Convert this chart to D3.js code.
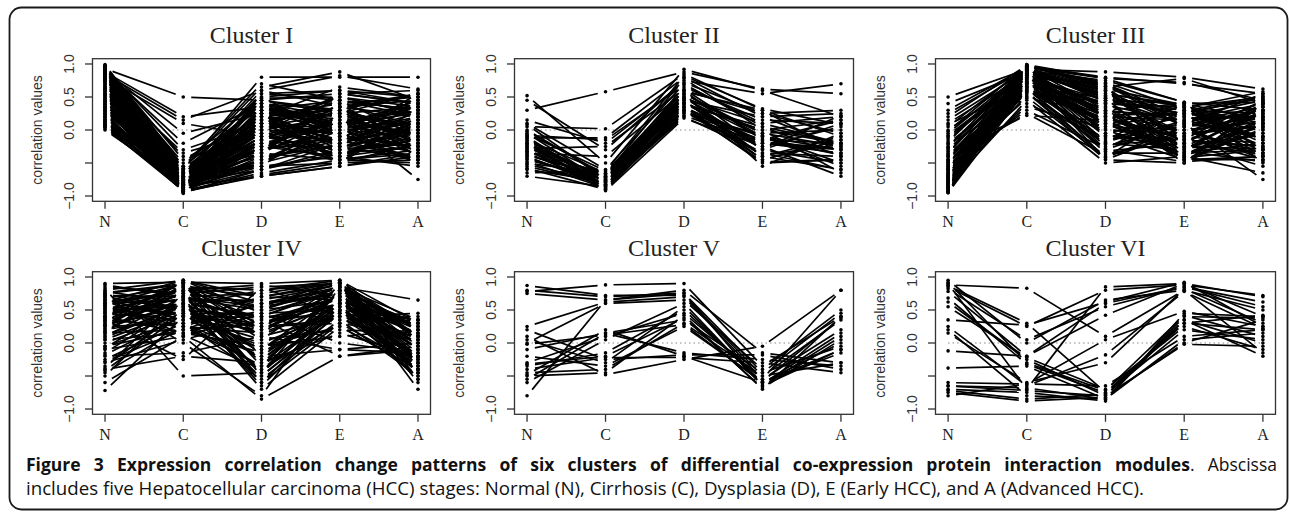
<!DOCTYPE html>
<html>
<head>
<meta charset="utf-8">
<script src="https://cdn.jsdelivr.net/npm/d3@7"></script>
<style>
  html, body { margin: 0; padding: 0; background: #fff; }
  svg { display: block; }
</style>
</head>
<body>
<div id="chart"></div>
<script>
// stages on the x axis
var stages = ["N", "C", "D", "E", "A"];
var titles = ["Cluster I", "Cluster II", "Cluster III", "Cluster IV", "Cluster V", "Cluster VI"];
var yTicks = [-1, -0.5, 0, 0.5, 1];
var yTickLabels = ["\u22121.0", "", "0.0", "0.5", "1.0"];

// one row per module: correlation at N, C, D, E, A
var clusterI = [
  [0.93, 0.50, 0.45, 0.55, 0.40], [0.88, 0.20, 0.35, 0.10, 0.25], [0.85, 0.15, 0.60, 0.82, 0.62],
  [0.80, 0.10, -0.10, 0.30, 0.55], [0.90, -0.05, 0.25, -0.20, 0.10], [0.98, -0.55, 0.70, 0.45, 0.30],
  [0.97, -0.65, 0.55, 0.60, 0.50], [0.95, -0.70, 0.40, 0.20, -0.10], [0.94, -0.60, 0.80, 0.80, 0.80],
  [0.92, -0.75, 0.30, -0.05, 0.20], [0.91, -0.80, 0.10, 0.35, 0.45], [0.89, -0.85, -0.20, 0.05, -0.30],
  [0.87, -0.50, 0.48, 0.50, 0.35], [0.86, -0.90, -0.40, -0.25, -0.45], [0.84, -0.72, 0.20, 0.40, 0.05],
  [0.83, -0.88, -0.55, -0.50, -0.20], [0.82, -0.62, 0.05, 0.25, 0.35], [0.80, -0.78, -0.30, -0.10, 0.15],
  [0.78, -0.92, -0.65, -0.45, -0.50], [0.77, -0.55, 0.35, 0.15, -0.05], [0.75, -0.82, 0.15, -0.35, -0.25],
  [0.74, -0.68, -0.05, 0.55, 0.60], [0.72, -0.86, -0.45, -0.15, 0.00], [0.70, -0.90, 0.45, 0.30, -0.35],
  [0.68, -0.74, -0.15, 0.10, 0.40], [0.66, -0.58, 0.25, -0.30, -0.15], [0.65, -0.93, -0.70, -0.55, -0.40],
  [0.63, -0.80, 0.00, -0.05, 0.25], [0.61, -0.66, -0.35, 0.20, 0.10], [0.60, -0.87, 0.55, 0.45, 0.20],
  [0.58, -0.76, -0.25, -0.40, -0.55], [0.56, -0.95, -0.60, -0.20, 0.05], [0.55, -0.62, 0.10, 0.35, -0.20],
  [0.53, -0.84, -0.10, -0.30, 0.30], [0.52, -0.70, 0.30, 0.05, 0.45], [0.50, -0.91, -0.50, 0.15, -0.10],
  [0.48, -0.78, -0.20, -0.45, -0.35], [0.46, -0.60, 0.15, 0.25, 0.55], [0.45, -0.88, 0.35, -0.10, -0.25],
  [0.43, -0.73, -0.40, -0.25, 0.00], [0.42, -0.82, 0.05, 0.50, 0.25], [0.40, -0.94, -0.68, -0.50, -0.45],
  [0.38, -0.66, -0.05, -0.15, 0.15], [0.36, -0.86, 0.20, 0.30, -0.05], [0.35, -0.77, -0.30, 0.00, -0.30],
  [0.33, -0.55, 0.40, 0.10, 0.35], [0.31, -0.90, -0.15, -0.35, -0.15], [0.30, -0.81, 0.50, 0.60, 0.40],
  [0.28, -0.70, -0.55, -0.40, 0.10], [0.26, -0.92, 0.00, 0.20, -0.40], [0.25, -0.64, 0.25, -0.20, 0.20],
  [0.23, -0.85, -0.35, 0.40, 0.50], [0.21, -0.75, 0.10, -0.05, -0.50], [0.20, -0.89, -0.60, -0.30, -0.20],
  [0.18, -0.68, 0.45, 0.25, 0.05], [0.16, -0.83, -0.10, 0.10, 0.30], [0.15, -0.79, 0.20, -0.45, -0.30],
  [0.13, -0.93, -0.45, -0.10, 0.15], [0.12, -0.72, 0.30, 0.45, -0.10], [0.10, -0.87, -0.25, -0.25, -0.05],
  [0.09, -0.62, 0.05, 0.05, 0.45], [0.08, -0.85, -0.70, -0.55, -0.35], [0.06, -0.80, 0.15, 0.35, 0.20],
  [0.05, -0.90, -0.20, -0.15, -0.45], [0.02, -0.86, -0.50, 0.00, 0.10], [0.00, -0.82, -0.05, -0.40, -0.25],
  [0.99, -0.58, 0.65, 0.88, 0.45], [0.96, -0.45, 0.20, 0.65, 0.50], [0.93, -0.30, 0.10, -0.35, -0.15],
  [0.90, -0.20, 0.40, 0.30, 0.00], [0.86, -0.40, -0.25, 0.20, -0.75], [0.76, -0.35, 0.00, -0.50, 0.35],
  [0.97, -0.82, 0.25, 0.10, -0.20], [0.95, -0.88, -0.35, -0.45, 0.15], [0.92, -0.92, 0.05, 0.45, 0.30],
  [0.90, -0.68, 0.60, 0.35, 0.55], [0.88, -0.76, -0.50, -0.20, -0.40], [0.85, -0.84, 0.35, 0.05, 0.10],
  [0.81, -0.94, -0.25, 0.15, -0.25], [0.79, -0.70, 0.20, -0.25, 0.40], [0.73, -0.80, -0.60, -0.35, -0.10],
  [0.69, -0.88, 0.10, 0.50, 0.25], [0.64, -0.72, 0.40, -0.05, -0.45], [0.59, -0.83, -0.15, 0.30, 0.00],
  [0.54, -0.91, 0.25, -0.50, 0.20], [0.49, -0.64, -0.30, 0.40, -0.30], [0.44, -0.86, 0.00, -0.20, 0.50],
  [0.39, -0.79, -0.45, 0.05, 0.35], [0.34, -0.93, 0.30, 0.20, -0.15], [0.29, -0.75, -0.10, -0.30, 0.05],
  [0.24, -0.87, 0.50, -0.10, -0.35], [0.19, -0.81, -0.35, 0.55, 0.40], [0.14, -0.90, 0.10, -0.40, 0.00],
  [0.11, -0.77, -0.55, 0.25, -0.20], [0.07, -0.84, 0.35, 0.00, 0.30], [0.04, -0.92, -0.15, 0.35, -0.40],
  [0.62, -0.96, 0.15, -0.15, 0.55]
];

var clusterII = [
  [0.30, 0.58, 0.88, 0.62, 0.55], [0.45, -0.30, 0.75, 0.55, 0.70], [0.52, -0.50, 0.92, 0.60, 0.20],
  [0.05, 0.02, 0.85, 0.30, -0.10], [-0.12, -0.12, 0.80, 0.20, 0.25], [0.10, -0.60, 0.70, 0.05, -0.20],
  [0.08, -0.75, 0.55, -0.10, -0.30], [0.00, -0.70, 0.65, 0.15, 0.10], [-0.05, -0.80, 0.50, -0.30, -0.50],
  [-0.10, -0.85, 0.45, -0.45, -0.15], [-0.15, -0.65, 0.60, 0.25, -0.05], [-0.18, -0.78, 0.40, 0.00, 0.15],
  [-0.20, -0.88, 0.35, -0.20, -0.35], [-0.22, -0.72, 0.55, -0.05, -0.25], [-0.25, -0.82, 0.30, -0.35, -0.60],
  [-0.27, -0.68, 0.48, 0.10, 0.20], [-0.30, -0.90, 0.25, -0.15, -0.20], [-0.32, -0.76, 0.42, -0.25, 0.05],
  [-0.35, -0.84, 0.38, 0.05, -0.40], [-0.38, -0.70, 0.52, -0.40, -0.10], [-0.40, -0.86, 0.28, -0.10, -0.55],
  [-0.42, -0.80, 0.45, 0.20, -0.25], [-0.45, -0.74, 0.60, -0.30, 0.10], [-0.48, -0.88, 0.32, -0.50, -0.45],
  [-0.50, -0.66, 0.40, 0.00, -0.65], [-0.55, -0.82, 0.22, -0.20, -0.30], [-0.60, -0.78, 0.35, -0.45, -0.15],
  [-0.65, -0.62, 0.50, -0.05, 0.00], [-0.70, -0.86, 0.20, -0.35, -0.40], [0.15, -0.20, 0.72, 0.25, 0.30],
  [-0.08, -0.15, 0.68, 0.10, -0.20], [-0.28, -0.25, 0.62, -0.15, 0.15], [-0.35, -0.40, 0.58, 0.30, -0.35],
  [-0.12, -0.88, 0.30, -0.48, -0.45], [-0.20, -0.92, 0.18, -0.25, -0.70], [-0.02, -0.68, 0.78, 0.00, -0.20],
  [-0.16, -0.74, 0.45, -0.40, -0.60], [-0.24, -0.84, 0.40, -0.18, -0.28], [-0.32, -0.66, 0.55, -0.55, -0.05],
  [-0.44, -0.76, 0.35, -0.28, 0.22], [-0.52, -0.80, 0.26, -0.08, -0.50], [-0.58, -0.90, 0.30, -0.38, -0.22],
  [-0.06, -0.62, 0.82, 0.32, 0.08], [-0.38, -0.72, 0.48, -0.12, -0.38]
];

var clusterIII = [
  [0.50, 0.92, 0.88, 0.80, 0.62], [0.30, 0.95, 0.78, 0.72, 0.45], [0.20, 0.98, 0.65, 0.78, 0.40],
  [0.15, 0.90, 0.75, 0.42, 0.30], [0.10, 0.85, 0.55, 0.35, 0.50], [0.05, 0.96, 0.70, 0.10, -0.10],
  [0.00, 0.80, 0.45, 0.25, 0.15], [-0.05, 0.92, 0.60, -0.20, 0.35], [-0.10, 0.75, 0.30, 0.40, -0.30],
  [-0.15, 0.88, 0.50, -0.05, 0.05], [-0.20, 0.70, 0.20, 0.15, 0.40], [-0.25, 0.94, 0.62, -0.35, -0.20],
  [-0.28, 0.65, 0.10, -0.40, 0.10], [-0.30, 0.82, 0.40, 0.30, 0.25], [-0.35, 0.97, 0.68, 0.05, -0.45],
  [-0.38, 0.60, -0.05, 0.20, 0.45], [-0.40, 0.86, 0.35, -0.25, -0.05], [-0.42, 0.72, 0.15, -0.10, 0.20],
  [-0.45, 0.93, 0.55, 0.38, -0.15], [-0.48, 0.55, -0.20, -0.30, 0.30], [-0.50, 0.78, 0.25, 0.00, -0.35],
  [-0.52, 0.90, 0.48, -0.45, 0.00], [-0.55, 0.68, 0.05, 0.28, 0.52], [-0.57, 0.84, -0.10, -0.15, -0.25],
  [-0.60, 0.96, 0.72, 0.32, 0.10], [-0.62, 0.62, -0.30, -0.48, -0.40], [-0.64, 0.80, 0.38, 0.12, 0.35],
  [-0.66, 0.74, 0.00, -0.38, 0.15], [-0.68, 0.91, 0.58, -0.20, -0.55], [-0.70, 0.58, -0.40, -0.05, 0.25],
  [-0.72, 0.87, 0.28, 0.22, -0.10], [-0.74, 0.66, -0.15, 0.40, 0.42], [-0.76, 0.95, 0.42, -0.28, 0.05],
  [-0.78, 0.71, 0.12, -0.42, -0.30], [-0.80, 0.83, -0.25, 0.08, 0.30], [-0.82, 0.60, 0.18, -0.12, -0.45],
  [-0.84, 0.89, 0.52, 0.18, 0.20], [-0.86, 0.76, -0.35, -0.35, -0.05], [-0.88, 0.93, 0.08, 0.36, -0.20],
  [-0.90, 0.69, 0.32, -0.50, 0.40], [-0.92, 0.85, -0.45, 0.00, 0.12], [-0.94, 0.99, 0.66, -0.22, -0.35],
  [-0.95, 0.77, 0.22, 0.26, 0.48], [-0.85, 0.45, -0.50, -0.40, -0.65], [-0.75, 0.40, -0.12, 0.10, -0.75],
  [-0.65, 0.35, 0.02, -0.18, 0.38], [-0.55, 0.30, -0.28, 0.30, -0.15], [-0.45, 0.25, -0.38, -0.08, 0.08],
  [-0.32, 0.22, 0.14, -0.32, -0.48], [-0.18, 0.97, 0.80, 0.70, 0.55], [-0.08, 0.82, 0.35, -0.45, -0.40],
  [0.08, 0.64, -0.18, 0.14, 0.22], [-0.22, 0.50, -0.42, 0.34, 0.58], [-0.58, 0.48, 0.26, -0.26, -0.28],
  [-0.87, 0.88, 0.60, 0.05, 0.18], [-0.79, 0.92, -0.05, -0.45, 0.02], [-0.69, 0.52, 0.44, 0.24, -0.38],
  [-0.93, 0.73, -0.22, -0.14, 0.45], [0.40, 0.88, 0.50, 0.30, -0.25], [0.25, 0.93, 0.20, -0.30, 0.35],
  [-0.02, 0.98, 0.62, 0.38, 0.05], [-0.12, 0.90, 0.05, 0.00, -0.40], [-0.26, 0.85, 0.66, -0.42, 0.28],
  [-0.36, 0.95, 0.30, 0.15, -0.10], [-0.46, 0.80, -0.32, -0.20, 0.40], [-0.53, 0.91, 0.45, 0.40, 0.15],
  [-0.61, 0.72, 0.10, -0.35, -0.30], [-0.67, 0.86, -0.18, 0.25, 0.50], [-0.73, 0.94, 0.52, -0.10, -0.20],
  [-0.77, 0.64, -0.42, 0.05, 0.30], [-0.81, 0.88, 0.25, -0.45, -0.45], [-0.83, 0.79, 0.70, 0.20, 0.00],
  [-0.86, 0.96, -0.08, -0.25, 0.25], [-0.89, 0.70, 0.40, 0.35, -0.35], [-0.91, 0.84, 0.00, -0.05, 0.42],
  [-0.93, 0.90, -0.30, 0.12, -0.12], [-0.95, 0.62, 0.15, -0.38, 0.18], [-0.71, 0.99, 0.78, 0.42, -0.50],
  [-0.49, 0.57, -0.45, -0.50, 0.10], [-0.39, 0.66, 0.48, 0.08, 0.55], [-0.59, 0.82, 0.20, -0.15, -0.25]
];

var clusterIV = [
  [0.90, 0.92, 0.90, 0.95, 0.30], [0.85, 0.75, 0.85, 0.90, 0.10], [0.80, 0.95, 0.60, 0.85, 0.35],
  [0.78, 0.60, 0.40, 0.80, -0.10], [0.75, 0.88, 0.20, 0.70, 0.20], [0.72, 0.70, 0.75, 0.92, -0.30],
  [0.70, 0.50, -0.10, 0.60, 0.05], [0.68, 0.85, 0.55, 0.75, 0.25], [0.65, 0.40, 0.30, 0.50, -0.40],
  [0.62, 0.78, -0.30, 0.65, 0.15], [0.60, 0.65, 0.65, 0.88, -0.05], [0.58, 0.90, 0.10, 0.40, 0.30],
  [0.55, 0.45, 0.45, 0.80, -0.20], [0.52, 0.72, -0.45, 0.55, -0.35], [0.50, 0.55, 0.80, 0.95, 0.10],
  [0.48, 0.82, 0.35, 0.70, -0.45], [0.45, 0.35, 0.00, 0.45, 0.00], [0.42, 0.68, 0.50, 0.85, 0.20],
  [0.40, 0.92, -0.20, 0.60, -0.25], [0.38, 0.58, 0.25, 0.30, 0.35], [0.35, 0.25, 0.60, 0.75, -0.15],
  [0.32, 0.75, -0.55, 0.35, -0.50], [0.30, 0.48, 0.15, 0.90, 0.05], [0.28, 0.85, 0.70, 0.65, 0.25],
  [0.25, 0.30, -0.35, 0.50, -0.30], [0.22, 0.62, 0.40, 0.85, -0.10], [0.20, 0.40, 0.05, 0.20, 0.15],
  [0.18, 0.78, -0.60, 0.55, -0.40], [0.15, 0.20, 0.30, 0.70, 0.00], [0.12, 0.55, -0.15, 0.40, -0.20],
  [0.10, 0.70, 0.55, 0.95, -0.55], [0.05, 0.15, -0.05, 0.10, 0.20], [0.00, 0.45, -0.40, 0.30, -0.35],
  [-0.05, 0.35, 0.20, 0.80, 0.10], [-0.10, 0.10, 0.45, 0.00, -0.15], [-0.15, 0.60, -0.25, 0.65, -0.45],
  [-0.20, -0.15, 0.10, -0.10, 0.00], [-0.25, 0.30, -0.50, 0.45, 0.30], [-0.30, 0.05, 0.35, -0.20, -0.05],
  [-0.35, 0.50, -0.10, 0.75, -0.30], [-0.40, -0.20, -0.30, 0.15, -0.20], [-0.45, 0.25, 0.15, 0.60, 0.05],
  [-0.50, 0.65, -0.65, 0.50, -0.50], [-0.60, 0.10, -0.85, -0.20, -0.10], [-0.72, 0.40, 0.25, 0.35, 0.40],
  [0.82, -0.50, -0.45, 0.90, -0.70], [0.70, 0.00, -0.80, 0.85, 0.65], [0.35, -0.25, 0.85, 0.40, 0.45],
  [0.60, 0.80, 0.88, 0.72, -0.25], [0.15, 0.95, 0.70, 0.88, -0.35], [-0.05, 0.20, -0.15, 0.55, 0.35],
  [0.45, 0.68, -0.70, 0.25, -0.40], [0.25, 0.88, 0.50, 0.92, -0.60], [0.55, 0.30, -0.20, -0.10, -0.15],
  [-0.38, 0.75, 0.60, 0.82, 0.25], [0.08, 0.58, 0.20, 0.68, -0.30], [0.65, 0.12, -0.40, 0.48, -0.05],
  [-0.18, 0.42, 0.38, 0.58, -0.45], [0.38, 0.92, -0.35, 0.78, 0.12], [0.74, 0.52, 0.12, 0.62, -0.22],
  [0.88, 0.70, 0.30, 0.60, 0.00], [0.76, 0.90, -0.50, 0.45, -0.30], [0.66, 0.35, 0.70, 0.92, 0.20],
  [0.57, 0.80, 0.05, 0.85, -0.45], [0.47, 0.60, -0.60, 0.30, 0.10], [0.40, 0.15, 0.50, 0.65, -0.20],
  [0.33, 0.92, 0.25, 0.78, 0.30], [0.27, 0.55, -0.25, 0.55, -0.55], [0.17, 0.85, 0.80, 0.90, 0.05],
  [0.05, 0.50, 0.40, 0.40, -0.35], [-0.08, 0.65, -0.45, 0.60, 0.15], [-0.28, 0.20, 0.60, 0.70, -0.10],
  [-0.42, 0.45, -0.05, 0.25, -0.40], [0.62, 0.95, 0.45, 0.50, 0.35], [0.52, 0.25, -0.35, 0.80, -0.25]
];

var clusterV = [
  [0.87, 0.72, 0.72, -0.50, 0.35], [0.78, 0.88, 0.90, -0.35, 0.40], [0.80, 0.70, 0.76, -0.65, -0.10],
  [0.75, 0.65, 0.75, -0.45, 0.45], [0.25, 0.62, 0.70, -0.55, 0.80], [0.00, 0.60, 0.65, -0.40, 0.50],
  [-0.02, 0.12, 0.28, -0.60, 0.00], [0.20, -0.25, -0.18, -0.18, -0.40], [0.05, -0.30, 0.55, -0.62, 0.15],
  [-0.10, 0.15, -0.15, -0.25, -0.35], [-0.30, 0.10, 0.45, -0.55, 0.20], [-0.32, -0.20, 0.38, -0.68, 0.05],
  [-0.35, -0.15, 0.50, -0.60, -0.15], [-0.40, -0.22, -0.22, -0.30, -0.45], [-0.45, -0.40, 0.30, -0.50, -0.30],
  [-0.48, 0.20, -0.20, -0.60, -0.10], [-0.50, -0.45, 0.42, -0.70, 0.40], [-0.55, 0.15, 0.35, -0.45, -0.05],
  [-0.60, 0.05, 0.60, -0.65, 0.10], [-0.80, 0.65, 0.80, -0.15, -0.30], [-0.20, -0.35, 0.25, -0.58, 0.38],
  [0.10, -0.48, -0.25, -0.05, 0.80]
];

var clusterVI = [
  [0.88, 0.83, 0.10, 0.80, 0.50], [0.87, 0.30, -0.75, 0.30, 0.20], [0.85, 0.25, 0.80, 0.88, 0.72],
  [0.82, 0.05, 0.55, 0.85, 0.62], [0.78, -0.20, 0.42, 0.90, 0.40], [0.62, -0.25, -0.80, 0.35, 0.00],
  [0.55, -0.22, -0.70, 0.25, -0.10], [0.35, 0.27, 0.62, 0.92, 0.25], [0.15, -0.60, -0.30, 0.82, 0.30],
  [-0.12, -0.20, 0.60, 0.85, 0.55], [-0.38, -0.35, -0.85, 0.40, 0.38], [-0.60, -0.62, -0.65, 0.10, 0.20],
  [-0.65, -0.68, -0.85, 0.05, 0.15], [-0.70, -0.75, -0.88, 0.45, 0.40], [-0.72, -0.85, -0.78, 0.20, 0.05],
  [-0.75, -0.88, -0.82, 0.00, 0.35], [0.92, -0.30, -0.72, 0.42, 0.10], [0.95, 0.00, 0.65, 0.80, -0.15],
  [0.68, -0.32, -0.76, 0.30, 0.42], [0.25, -0.65, -0.18, 0.78, 0.22], [-0.65, -0.72, -0.80, -0.02, -0.05],
  [0.90, -0.70, 0.85, 0.90, 0.70], [-0.80, -0.62, 0.05, 0.48, 0.25], [0.20, -0.80, -0.85, 0.35, -0.20]
];

var clusters = [clusterI, clusterII, clusterIII, clusterIV, clusterV, clusterVI];

var captionBold = "Figure 3 Expression correlation change patterns of six clusters of differential co-expression protein interaction modules";
var captionRest = ". Abscissa";
var captionLine2 = "includes five Hepatocellular carcinoma (HCC) stages: Normal (N), Cirrhosis (C), Dysplasia (D), E (Early HCC), and A (Advanced HCC).";

var W = 1290, H = 514;
var colLeft = [92.5, 514.5, 935.5], colRight = [430.5, 853.5, 1275.5];
var rowTop = [58.7, 271.7], rowBottom = [201.3, 414.3];
var gap = 8, tick = 7.5;

var svg = d3.select("#chart").append("svg").attr("width", W).attr("height", H);

// outer frame
svg.append("rect")
  .attr("x", 9.5).attr("y", 7.5).attr("width", 1278).attr("height", 502)
  .attr("rx", 12).attr("ry", 12)
  .attr("fill", "none").attr("stroke", "#1a1a1a").attr("stroke-width", 1.8);

clusters.forEach(function(rows, k) {
  var c = k % 3, r = Math.floor(k / 3);
  var left = colLeft[c], right = colRight[c], top = rowTop[r], bottom = rowBottom[r];
  var x = d3.scaleLinear().domain([-0.16, 4.16]).range([left, right]);
  var y = d3.scaleLinear().domain([-1.08, 1.08]).range([bottom, top]);
  var g = svg.append("g");

  // dotted zero line
  g.append("line")
    .attr("x1", x(0)).attr("x2", x(4)).attr("y1", y(0)).attr("y2", y(0))
    .attr("stroke", "#888").attr("stroke-width", 1).attr("stroke-dasharray", "1.5,3");

  // segments, R type="b" style (gap around each point)
  var segs = [];
  rows.forEach(function(v) {
    for (var i = 0; i < 4; i++) {
      var x1 = x(i), y1 = y(v[i]), x2 = x(i + 1), y2 = y(v[i + 1]);
      var dx = x2 - x1, dy = y2 - y1, L = Math.sqrt(dx * dx + dy * dy);
      if (L <= 2 * gap) continue;
      segs.push([x1 + gap * dx / L, y1 + gap * dy / L, x2 - gap * dx / L, y2 - gap * dy / L]);
    }
  });
  g.selectAll("line.seg").data(segs).enter().append("line")
    .attr("class", "seg")
    .attr("x1", function(d) { return d[0]; }).attr("y1", function(d) { return d[1]; })
    .attr("x2", function(d) { return d[2]; }).attr("y2", function(d) { return d[3]; })
    .attr("stroke", "#000").attr("stroke-width", 1.7);

  var pts = [];
  rows.forEach(function(v) { v.forEach(function(val, i) { pts.push([i, val]); }); });
  g.selectAll("circle").data(pts).enter().append("circle")
    .attr("cx", function(d) { return x(d[0]); }).attr("cy", function(d) { return y(d[1]); })
    .attr("r", 1.8).attr("fill", "#000");

  // box
  g.append("rect")
    .attr("x", left).attr("y", top).attr("width", right - left).attr("height", bottom - top)
    .attr("fill", "none").attr("stroke", "#333").attr("stroke-width", 1.3);

  // y axis
  g.selectAll("line.yt").data(yTicks).enter().append("line")
    .attr("x1", left - tick).attr("x2", left)
    .attr("y1", function(d) { return y(d); }).attr("y2", function(d) { return y(d); })
    .attr("stroke", "#333").attr("stroke-width", 1.3);
  g.selectAll("text.yl").data(yTicks).enter().append("text")
    .attr("transform", function(d) { return "translate(" + (left - 18.5) + "," + y(d) + ") rotate(-90)"; })
    .attr("text-anchor", "middle")
    .style("font-family", "'Liberation Sans', Arial, sans-serif").style("font-size", "14px")
    .attr("fill", "#333")
    .text(function(d, i) { return yTickLabels[i]; });
  g.append("text")
    .attr("transform", "translate(" + (left - 51) + "," + y(0) + ") rotate(-90)")
    .attr("text-anchor", "middle")
    .style("font-family", "'Liberation Sans', Arial, sans-serif").style("font-size", "14px")
    .attr("fill", "#333")
    .text("correlation values");

  // x axis
  g.selectAll("line.xt").data(stages).enter().append("line")
    .attr("x1", function(d, i) { return x(i); }).attr("x2", function(d, i) { return x(i); })
    .attr("y1", bottom).attr("y2", bottom + tick)
    .attr("stroke", "#333").attr("stroke-width", 1.3);
  g.selectAll("text.xl").data(stages).enter().append("text")
    .attr("x", function(d, i) { return x(i); }).attr("y", bottom + 25.5)
    .attr("text-anchor", "middle")
    .style("font-family", "'Liberation Serif', 'Times New Roman', serif").style("font-size", "16px")
    .attr("fill", "#222")
    .text(function(d) { return d; });

  // title
  g.append("text")
    .attr("x", (left + right) / 2 - 10).attr("y", top - 16)
    .attr("text-anchor", "middle")
    .style("font-family", "'Liberation Serif', 'Times New Roman', serif").style("font-size", "24px")
    .attr("fill", "#222")
    .text(titles[k]);
});

// caption, first line justified to the frame width
var capFont = "'Open Sans', 'Noto Sans', sans-serif";
var cap1 = svg.append("text").attr("x", 26).attr("y", 471)
  .style("font-family", capFont).style("font-size", "17.5px").attr("fill", "#111");
cap1.append("tspan").style("font-weight", "bold").text(captionBold);
cap1.append("tspan").text(captionRest);
var natural = cap1.node().getComputedTextLength();
var spaces = (captionBold + captionRest).split(" ").length - 1;
if (natural < 1251) cap1.style("word-spacing", ((1251 - natural) / spaces) + "px");
else cap1.attr("textLength", 1251).attr("lengthAdjust", "spacingAndGlyphs");

svg.append("text").attr("x", 26).attr("y", 495)
  .style("font-family", capFont).style("font-size", "17.5px").attr("fill", "#111")
  .attr("textLength", 1118).attr("lengthAdjust", "spacingAndGlyphs")
  .text(captionLine2);
</script>
</body>
</html>
